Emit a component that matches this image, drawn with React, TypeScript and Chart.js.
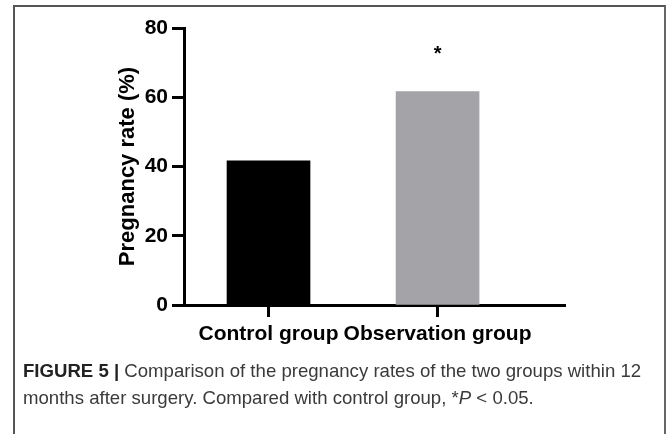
import React, { useEffect, useRef } from "react";
import { Chart, registerables } from "chart.js";

Chart.register(...registerables);

const categories = ["Control group", "Observation group"];
const pregnancyRate = [41.67, 61.67];
const barColors = ["#000000", "#a3a3a8"];
const significance = ["", "*"];
const yTicks = [0, 20, 40, 60, 80];
const yTitle = "Pregnancy rate (%)";
const captionLabel = "FIGURE 5 |";
const captionLine1 = " Comparison of the pregnancy rates of the two groups within 12";
const captionLine2a = "months after surgery. Compared with control group, *";
const captionLine2b = "P";
const captionLine2c = " < 0.05.";

const FONT = "'Liberation Sans', Arial, Helvetica, sans-serif";

const sigPlugin = {
  id: "sigMarks",
  afterDatasetsDraw(chart: any) {
    const ctx = chart.ctx;
    const meta = chart.getDatasetMeta(0);
    meta.data.forEach((bar: any, i: number) => {
      const s = significance[i];
      if (!s) return;
      ctx.save();
      ctx.font = `bold 20px ${FONT}`;
      ctx.fillStyle = "#000";
      ctx.textAlign = "center";
      ctx.textBaseline = "alphabetic";
      ctx.fillText(s, bar.x, bar.y - 31);
      ctx.restore();
    });
  },
};

export default function App() {
  const ref = useRef<HTMLCanvasElement | null>(null);

  useEffect(() => {
    if (!ref.current) return;
    const tickFont = { family: FONT, size: 21, weight: "bold" as const };
    const chart = new Chart(ref.current, {
      type: "bar",
      data: {
        datasets: [
          {
            data: categories.map((_, i) => ({ x: i + 1, y: pregnancyRate[i] })) as any,
            backgroundColor: barColors,
            borderWidth: 0,
            barThickness: 83,
          },
        ],
      },
      options: {
        animation: false,
        responsive: false,
        maintainAspectRatio: false,
        layout: { padding: { left: 110, right: 105, top: 28, bottom: 0 } },
        plugins: { legend: { display: false }, tooltip: { enabled: false } },
        scales: {
          x: {
            type: "linear",
            offset: false,
            min: 0.5,
            max: 2.754,
            afterBuildTicks: (s: any) => {
              s.ticks = categories.map((_, i) => ({ value: i + 1 }));
            },
            afterFit: (s: any) => {
              s.height = 55;
            },
            grid: { offset: false, drawOnChartArea: false, color: "#000", tickLength: 12, tickWidth: 3 },
            border: { color: "#000", width: 3 },
            ticks: {
              font: tickFont,
              color: "#000",
              padding: 5,
              maxRotation: 0,
              autoSkip: false,
              callback: (v: any) => categories[Math.round(Number(v)) - 1] ?? "",
            },
          },
          y: {
            min: 0,
            max: 80,
            afterBuildTicks: (s: any) => {
              s.ticks = yTicks.map((v) => ({ value: v }));
            },
            afterFit: (s: any) => {
              s.width = 74;
            },
            grid: { drawOnChartArea: false, color: "#000", tickLength: 12, tickWidth: 3 },
            border: { color: "#000", width: 3 },
            ticks: { font: tickFont, color: "#000", padding: 4 },
            title: {
              display: true,
              text: yTitle,
              color: "#000",
              font: { family: FONT, size: 22, weight: "bold" },
              padding: { top: 5, bottom: 0 },
            },
          },
        },
      },
      plugins: [sigPlugin],
    });
    return () => chart.destroy();
  }, []);

  return (
    <div style={{ position: "absolute", left: 0, top: 0, width: 670, height: 434, overflow: "hidden", background: "#fff" }}>
      <div
        style={{
          position: "absolute",
          left: 13,
          top: 5,
          width: 649,
          height: 460,
          borderTop: "2px solid #555",
          borderLeft: "2px solid #555",
          borderRight: "2px solid #666",
        }}
      />
      <canvas
        ref={ref}
        width={670}
        height={360}
        style={{ position: "absolute", left: 0, top: 0, width: 670, height: 360, display: "block" }}
      />
      <div
        style={{
          position: "absolute",
          left: 23,
          top: 357,
          fontFamily: FONT,
          fontSize: 18.6,
          lineHeight: "27px",
          color: "#3a3a3a",
          whiteSpace: "nowrap",
        }}
      >
        <span style={{ fontWeight: "bold", color: "#222" }}>{captionLabel}</span>
        {captionLine1}
        <br />
        {captionLine2a}
        <i>{captionLine2b}</i>
        {captionLine2c}
      </div>
    </div>
  );
}
